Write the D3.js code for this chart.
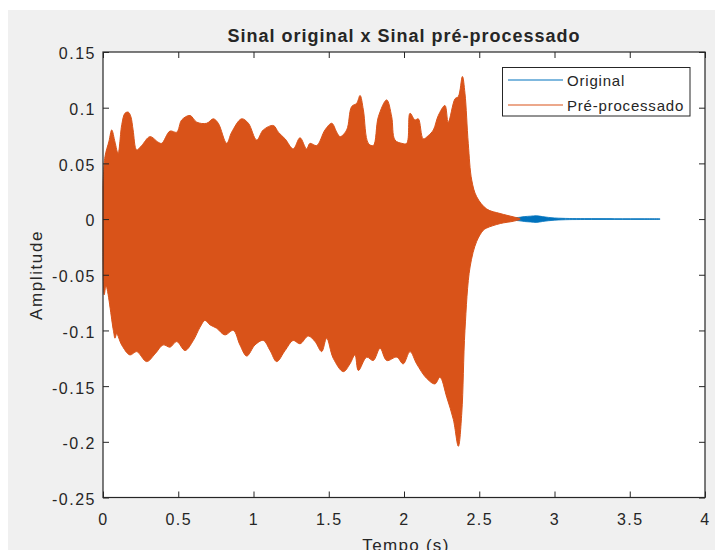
<!DOCTYPE html>
<html>
<head>
<meta charset="utf-8">
<script src="https://cdn.jsdelivr.net/npm/d3@7"></script>
<style>
  html, body { margin: 0; padding: 0; background: #ffffff; }
  svg { display: block; }
  text { font-family: "Liberation Sans", Arial, Helvetica, sans-serif; fill: #262626; }
</style>
</head>
<body>
<svg id="chart" width="718" height="550"></svg>
<script>
// Envelope of the pre-processed signal (upper and lower peaks over time, in s)
const procUpperT = [0.000, 0.013, 0.040, 0.058, 0.080, 0.100, 0.125, 0.146, 0.168, 0.185, 0.200, 0.224, 0.257, 0.312, 0.367, 0.390, 0.445, 0.490, 0.523, 0.578, 0.623, 0.689, 0.733, 0.766, 0.822, 0.855, 0.921, 0.966, 1.021, 1.065, 1.132, 1.165, 1.210, 1.264, 1.309, 1.353, 1.375, 1.420, 1.475, 1.520, 1.553, 1.575, 1.619, 1.652, 1.686, 1.708, 1.730, 1.763, 1.796, 1.830, 1.885, 1.918, 1.940, 1.985, 2.018, 2.040, 2.073, 2.095, 2.128, 2.162, 2.195, 2.228, 2.272, 2.294, 2.339, 2.361, 2.388, 2.405, 2.427, 2.450, 2.483, 2.550, 2.638, 2.726, 2.770];
const procUpperV = [0.030, 0.056, 0.070, 0.080, 0.069, 0.059, 0.085, 0.095, 0.096, 0.092, 0.080, 0.062, 0.066, 0.074, 0.069, 0.068, 0.079, 0.078, 0.089, 0.093, 0.087, 0.086, 0.090, 0.086, 0.068, 0.078, 0.090, 0.086, 0.071, 0.080, 0.084, 0.078, 0.072, 0.063, 0.073, 0.063, 0.068, 0.066, 0.080, 0.086, 0.078, 0.074, 0.080, 0.101, 0.104, 0.111, 0.098, 0.068, 0.066, 0.092, 0.107, 0.092, 0.071, 0.068, 0.068, 0.095, 0.089, 0.090, 0.072, 0.075, 0.080, 0.093, 0.102, 0.087, 0.108, 0.110, 0.128, 0.113, 0.068, 0.035, 0.020, 0.009, 0.005, 0.002, 0.0005];
const procLowerT = [0.000, 0.008, 0.020, 0.069, 0.080, 0.091, 0.124, 0.179, 0.224, 0.290, 0.346, 0.400, 0.445, 0.490, 0.545, 0.600, 0.645, 0.678, 0.711, 0.755, 0.810, 0.866, 0.910, 0.955, 1.010, 1.065, 1.110, 1.154, 1.210, 1.264, 1.309, 1.364, 1.409, 1.453, 1.486, 1.530, 1.597, 1.641, 1.674, 1.697, 1.752, 1.796, 1.841, 1.885, 1.952, 1.995, 2.040, 2.084, 2.150, 2.206, 2.239, 2.284, 2.328, 2.361, 2.384, 2.405, 2.439, 2.483, 2.527, 2.550, 2.640, 2.726, 2.770];
const procLowerV = [-0.030, -0.068, -0.060, -0.100, -0.107, -0.103, -0.113, -0.122, -0.119, -0.128, -0.121, -0.113, -0.115, -0.110, -0.118, -0.109, -0.097, -0.091, -0.095, -0.098, -0.104, -0.100, -0.113, -0.123, -0.113, -0.109, -0.118, -0.128, -0.118, -0.109, -0.112, -0.105, -0.110, -0.119, -0.107, -0.125, -0.137, -0.130, -0.122, -0.136, -0.124, -0.127, -0.116, -0.127, -0.124, -0.130, -0.119, -0.130, -0.143, -0.148, -0.142, -0.160, -0.180, -0.204, -0.174, -0.100, -0.043, -0.020, -0.010, -0.008, -0.004, -0.002, -0.0005];

// Envelope of the original signal tail (symmetric about zero)
const origT = [2.74, 2.77, 2.80, 2.84, 2.88, 2.92, 2.96, 3.00, 3.05, 3.10, 3.20, 3.40, 3.60, 3.70];
const origA = [0.0012, 0.0016, 0.0022, 0.0026, 0.0030, 0.0022, 0.0015, 0.0010, 0.0007, 0.0005, 0.0004, 0.0003, 0.0003, 0.0003];

const xTicks = [0, 0.5, 1, 1.5, 2, 2.5, 3, 3.5, 4];
const yTicks = [-0.25, -0.2, -0.15, -0.1, -0.05, 0, 0.05, 0.1, 0.15];
const seriesNames = ["Original", "Pré-processado"];
const seriesColors = ["#0072BD", "#D95319"];

const svg = d3.select("#chart");
const W = 718, H = 550;
const plot = { left: 103, right: 705, top: 52, bottom: 497.5 };

// figure background
svg.append("rect").attr("x", 8).attr("y", 10).attr("width", 707).attr("height", H - 10).attr("fill", "#f0f0f0");
svg.append("rect").attr("x", plot.left).attr("y", plot.top)
  .attr("width", plot.right - plot.left).attr("height", plot.bottom - plot.top).attr("fill", "#ffffff");

const x = d3.scaleLinear().domain([0, 4]).range([plot.left, plot.right]);
const y = d3.scaleLinear().domain([-0.25, 0.15]).range([plot.bottom, plot.top]);

// smooth envelope outline: upper edge left to right, lower edge back right to left
const edge = d3.line().x(d => x(d[0])).y(d => y(d[1])).curve(d3.curveCatmullRom.alpha(0.5));
function envelopePath(upper, lower) {
  const top = edge(upper);
  const bottom = edge(lower.slice().reverse()).replace(/^M/, "L");
  return top + bottom + "Z";
}

// original signal (drawn first, underneath)
const origUpper = origT.map((t, i) => [t, origA[i]]);
const origLower = origT.map((t, i) => [t, -origA[i]]);
svg.append("path").attr("d", envelopePath(origUpper, origLower))
  .attr("fill", seriesColors[0]).attr("stroke", seriesColors[0]).attr("stroke-width", 0.8);

// pre-processed signal
const procUpper = procUpperT.map((t, i) => [t, procUpperV[i]]);
const procLower = procLowerT.map((t, i) => [t, procLowerV[i]]);
svg.append("path").attr("d", envelopePath(procUpper, procLower))
  .attr("fill", seriesColors[1]).attr("stroke", seriesColors[1]).attr("stroke-width", 1)
  .attr("stroke-linejoin", "round");

// axes box with inward ticks on all sides
const axisColor = "#262626";
const tickLen = 6;
const fmt = v => d3.format("~g")(v).replace("\u2212", "-");

svg.append("rect").attr("x", plot.left).attr("y", plot.top)
  .attr("width", plot.right - plot.left).attr("height", plot.bottom - plot.top)
  .attr("fill", "none").attr("stroke", axisColor).attr("stroke-width", 1.2);

const gx = svg.append("g").attr("transform", `translate(0,${plot.bottom})`)
  .call(d3.axisBottom(x).tickValues(xTicks).tickSize(-tickLen).tickFormat(fmt));
gx.select(".domain").remove();
gx.selectAll("line").attr("stroke", axisColor);
gx.selectAll("text").attr("y", 27).attr("dy", 0)
  .style("font-size", "16px").style("letter-spacing", "1.5px").attr("fill", axisColor);

const gxt = svg.append("g").attr("transform", `translate(0,${plot.top})`)
  .call(d3.axisTop(x).tickValues(xTicks).tickSize(-tickLen).tickFormat(""));
gxt.select(".domain").remove();
gxt.selectAll("line").attr("stroke", axisColor);

const gy = svg.append("g").attr("transform", `translate(${plot.left},0)`)
  .call(d3.axisLeft(y).tickValues(yTicks).tickSize(-tickLen).tickFormat(fmt));
gy.select(".domain").remove();
gy.selectAll("line").attr("stroke", axisColor);
gy.selectAll("text").attr("x", -7).attr("dy", "0.62em").attr("y", -3)
  .style("font-size", "16px").style("letter-spacing", "1.5px").attr("fill", axisColor);

const gyr = svg.append("g").attr("transform", `translate(${plot.right},0)`)
  .call(d3.axisRight(y).tickValues(yTicks).tickSize(-tickLen).tickFormat(""));
gyr.select(".domain").remove();
gyr.selectAll("line").attr("stroke", axisColor);

// title and axis labels
svg.append("text").attr("x", 404).attr("y", 42).attr("text-anchor", "middle")
  .style("font-size", "18px").style("font-weight", "bold").style("letter-spacing", "1px")
  .attr("fill", "#000").text("Sinal original x Sinal pré-processado");

svg.append("text").attr("transform", "translate(42,275) rotate(-90)").attr("text-anchor", "middle")
  .style("font-size", "17px").style("letter-spacing", "1.6px").attr("fill", axisColor).text("Amplitude");

svg.append("text").attr("x", 406).attr("y", 551).attr("text-anchor", "middle")
  .style("font-size", "17px").style("letter-spacing", "1.3px").attr("fill", axisColor).text("Tempo (s)");

// legend
const lg = svg.append("g");
lg.append("rect").attr("x", 502.5).attr("y", 67.5).attr("width", 187.5).attr("height", 48.5)
  .attr("fill", "#ffffff").attr("stroke", axisColor).attr("stroke-width", 1);
seriesNames.forEach((name, i) => {
  const ly = 80 + i * 25;
  lg.append("line").attr("x1", 508).attr("x2", 563).attr("y1", ly).attr("y2", ly)
    .attr("stroke", seriesColors[i]).attr("stroke-width", 1.2);
  lg.append("text").attr("x", 567).attr("y", ly + 5.5)
    .style("font-size", "15px").style("letter-spacing", "0.8px").attr("fill", axisColor).text(name);
});
</script>
</body>
</html>
